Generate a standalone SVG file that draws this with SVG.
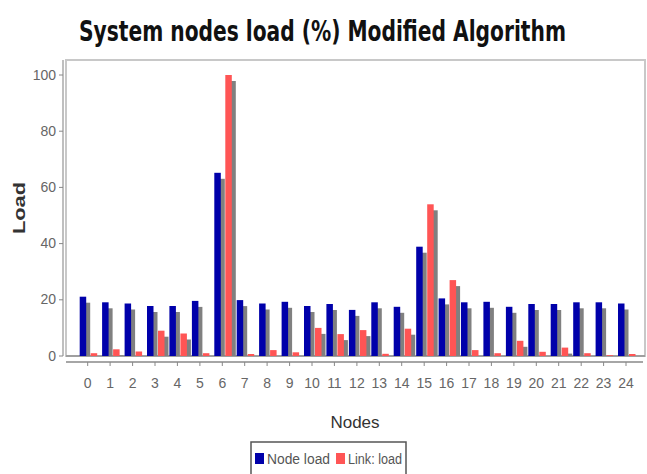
<svg xmlns="http://www.w3.org/2000/svg" width="647" height="474" viewBox="0 0 647 474">
<style>
.title{font-family:"DejaVu Sans Condensed","DejaVu Sans","Liberation Sans",sans-serif;font-weight:bold;font-size:21px;fill:#111}
.tick{font-family:"Liberation Sans","DejaVu Sans",sans-serif;font-size:14px;fill:#666}
.axl{font-family:"Liberation Sans","DejaVu Sans",sans-serif;font-size:17px;fill:#333}
.axlb{font-family:"Liberation Sans","DejaVu Sans",sans-serif;font-size:16px;font-weight:bold;fill:#333}
.leg{font-family:"Liberation Sans","DejaVu Sans",sans-serif;font-size:14px;fill:#555}
.node{fill:#0000aa}
.link{fill:#ff5555}
.sh{fill:#808080}
.tk{stroke:#888;stroke-width:1}
</style>
<rect width="647" height="474" fill="#fff"/>
<text class="title" transform="translate(79,41) scale(1,1.35)" x="0" y="0" textLength="487" lengthAdjust="spacingAndGlyphs">System nodes load (%) Modified Algorithm</text>
<g id="plot">
<rect x="66" y="60" width="579" height="296" fill="#fff" stroke="#c8c8c8" stroke-width="2"/>
<line x1="63" y1="60" x2="63" y2="356" stroke="#aaa" stroke-width="1.5"/>
<line x1="66" y1="362" x2="643" y2="362" stroke="#888" stroke-width="1.5"/>
<line x1="66" y1="356" x2="645" y2="356" stroke="#777" stroke-width="1"/>
</g>
<g id="y-axis">
<g class="tk">
<line x1="59" y1="75" x2="63" y2="75"/><line x1="59" y1="131.2" x2="63" y2="131.2"/><line x1="59" y1="187.4" x2="63" y2="187.4"/><line x1="59" y1="243.6" x2="63" y2="243.6"/><line x1="59" y1="299.8" x2="63" y2="299.8"/><line x1="59" y1="356" x2="63" y2="356"/>
</g>
<g class="tick" text-anchor="end">
<text x="56" y="80">100</text><text x="56" y="136">80</text><text x="56" y="192">60</text><text x="56" y="248">40</text><text x="56" y="304">20</text><text x="56" y="361">0</text>
</g>
<text class="axlb" transform="translate(25,208) rotate(-90)" text-anchor="middle" textLength="52" lengthAdjust="spacingAndGlyphs">Load</text>
</g>
<g id="x-axis">
<g class="tk">
<line x1="87.7" y1="362" x2="87.7" y2="366"/><line x1="110.1" y1="362" x2="110.1" y2="366"/><line x1="132.6" y1="362" x2="132.6" y2="366"/><line x1="155" y1="362" x2="155" y2="366"/><line x1="177.4" y1="362" x2="177.4" y2="366"/><line x1="199.9" y1="362" x2="199.9" y2="366"/><line x1="222.3" y1="362" x2="222.3" y2="366"/><line x1="244.7" y1="362" x2="244.7" y2="366"/><line x1="267.1" y1="362" x2="267.1" y2="366"/><line x1="289.6" y1="362" x2="289.6" y2="366"/><line x1="312" y1="362" x2="312" y2="366"/><line x1="334.4" y1="362" x2="334.4" y2="366"/><line x1="356.9" y1="362" x2="356.9" y2="366"/><line x1="379.3" y1="362" x2="379.3" y2="366"/><line x1="401.7" y1="362" x2="401.7" y2="366"/><line x1="424.2" y1="362" x2="424.2" y2="366"/><line x1="446.6" y1="362" x2="446.6" y2="366"/><line x1="469" y1="362" x2="469" y2="366"/><line x1="491.4" y1="362" x2="491.4" y2="366"/><line x1="513.9" y1="362" x2="513.9" y2="366"/><line x1="536.3" y1="362" x2="536.3" y2="366"/><line x1="558.7" y1="362" x2="558.7" y2="366"/><line x1="581.2" y1="362" x2="581.2" y2="366"/><line x1="603.6" y1="362" x2="603.6" y2="366"/><line x1="626" y1="362" x2="626" y2="366"/>
</g>
<g class="tick" text-anchor="middle">
<text x="87.7" y="388">0</text><text x="110.1" y="388">1</text><text x="132.6" y="388">2</text><text x="155" y="388">3</text><text x="177.4" y="388">4</text><text x="199.9" y="388">5</text><text x="222.3" y="388">6</text><text x="244.7" y="388">7</text><text x="267.1" y="388">8</text><text x="289.6" y="388">9</text><text x="312" y="388">10</text><text x="334.4" y="388">11</text><text x="356.9" y="388">12</text><text x="379.3" y="388">13</text><text x="401.7" y="388">14</text><text x="424.2" y="388">15</text><text x="446.6" y="388">16</text><text x="469" y="388">17</text><text x="491.4" y="388">18</text><text x="513.9" y="388">19</text><text x="536.3" y="388">20</text><text x="558.7" y="388">21</text><text x="581.2" y="388">22</text><text x="603.6" y="388">23</text><text x="626" y="388">24</text>
</g>
<text class="axl" x="355" y="428" text-anchor="middle">Nodes</text>
</g>
<g id="shadows">
<rect class="sh" x="83.7" y="302.7" width="6.5" height="53.3"/><rect class="sh" x="106.1" y="308.3" width="6.5" height="47.7"/><rect class="sh" x="128.6" y="309.5" width="6.5" height="46.5"/><rect class="sh" x="151" y="312" width="6.5" height="44"/><rect class="sh" x="173.4" y="312" width="6.5" height="44"/><rect class="sh" x="195.9" y="306.9" width="6.5" height="49.1"/><rect class="sh" x="218.3" y="178.8" width="6.5" height="177.2"/><rect class="sh" x="240.7" y="306.1" width="6.5" height="49.9"/><rect class="sh" x="263.1" y="309.5" width="6.5" height="46.5"/><rect class="sh" x="285.6" y="307.8" width="6.5" height="48.2"/><rect class="sh" x="308" y="312" width="6.5" height="44"/><rect class="sh" x="330.4" y="310" width="6.5" height="46"/><rect class="sh" x="352.9" y="315.9" width="6.5" height="40.1"/><rect class="sh" x="375.3" y="308.3" width="6.5" height="47.7"/><rect class="sh" x="397.7" y="312.8" width="6.5" height="43.2"/><rect class="sh" x="420.2" y="252.7" width="6.5" height="103.3"/><rect class="sh" x="442.6" y="304.4" width="6.5" height="51.6"/><rect class="sh" x="465" y="308.3" width="6.5" height="47.7"/><rect class="sh" x="487.4" y="307.8" width="6.5" height="48.2"/><rect class="sh" x="509.9" y="312.8" width="6.5" height="43.2"/><rect class="sh" x="532.3" y="310" width="6.5" height="46"/><rect class="sh" x="554.7" y="310" width="6.5" height="46"/><rect class="sh" x="577.2" y="308.3" width="6.5" height="47.7"/><rect class="sh" x="599.6" y="308.3" width="6.5" height="47.7"/><rect class="sh" x="622" y="309.5" width="6.5" height="46.5"/>
<rect class="sh" x="162" y="336.7" width="6.5" height="19.3"/><rect class="sh" x="184.4" y="339.5" width="6.5" height="16.5"/><rect class="sh" x="229.3" y="81" width="6.5" height="275"/><rect class="sh" x="319" y="333.9" width="6.5" height="22.1"/><rect class="sh" x="341.4" y="340.1" width="6.5" height="15.9"/><rect class="sh" x="363.9" y="336.1" width="6.5" height="19.9"/><rect class="sh" x="408.7" y="334.7" width="6.5" height="21.3"/><rect class="sh" x="431.2" y="210.3" width="6.5" height="145.7"/><rect class="sh" x="453.6" y="286.1" width="6.5" height="69.9"/><rect class="sh" x="520.9" y="346.8" width="6.5" height="9.2"/><rect class="sh" x="565.7" y="353.6" width="6.5" height="2.4"/><rect class="sh" x="117.1" y="355.3" width="6.5" height="0.7"/>
</g>
<g id="node-load">
<rect class="node" x="79.7" y="296.7" width="6.5" height="59.3"/><rect class="node" x="102.1" y="302.3" width="6.5" height="53.7"/><rect class="node" x="124.6" y="303.5" width="6.5" height="52.5"/><rect class="node" x="147" y="306" width="6.5" height="50"/><rect class="node" x="169.4" y="306" width="6.5" height="50"/><rect class="node" x="191.9" y="300.9" width="6.5" height="55.1"/><rect class="node" x="214.3" y="172.8" width="6.5" height="183.2"/><rect class="node" x="236.7" y="300.1" width="6.5" height="55.9"/><rect class="node" x="259.1" y="303.5" width="6.5" height="52.5"/><rect class="node" x="281.6" y="301.8" width="6.5" height="54.2"/><rect class="node" x="304" y="306" width="6.5" height="50"/><rect class="node" x="326.4" y="304" width="6.5" height="52"/><rect class="node" x="348.9" y="309.9" width="6.5" height="46.1"/><rect class="node" x="371.3" y="302.3" width="6.5" height="53.7"/><rect class="node" x="393.7" y="306.8" width="6.5" height="49.2"/><rect class="node" x="416.2" y="246.7" width="6.5" height="109.3"/><rect class="node" x="438.6" y="298.4" width="6.5" height="57.6"/><rect class="node" x="461" y="302.3" width="6.5" height="53.7"/><rect class="node" x="483.4" y="301.8" width="6.5" height="54.2"/><rect class="node" x="505.9" y="306.8" width="6.5" height="49.2"/><rect class="node" x="528.3" y="304" width="6.5" height="52"/><rect class="node" x="550.7" y="304" width="6.5" height="52"/><rect class="node" x="573.2" y="302.3" width="6.5" height="53.7"/><rect class="node" x="595.6" y="302.3" width="6.5" height="53.7"/><rect class="node" x="618" y="303.5" width="6.5" height="52.5"/>
</g>
<g id="link-load">
<rect class="link" x="90.7" y="353.2" width="6.5" height="2.8"/><rect class="link" x="113.1" y="349.3" width="6.5" height="6.7"/><rect class="link" x="135.6" y="351.5" width="6.5" height="4.5"/><rect class="link" x="158" y="330.7" width="6.5" height="25.3"/><rect class="link" x="180.4" y="333.5" width="6.5" height="22.5"/><rect class="link" x="202.9" y="353.2" width="6.5" height="2.8"/><rect class="link" x="225.3" y="75" width="6.5" height="281"/><rect class="link" x="247.7" y="354" width="6.5" height="2"/><rect class="link" x="270.1" y="350.1" width="6.5" height="5.9"/><rect class="link" x="292.6" y="352.3" width="6.5" height="3.7"/><rect class="link" x="315" y="327.9" width="6.5" height="28.1"/><rect class="link" x="337.4" y="334.1" width="6.5" height="21.9"/><rect class="link" x="359.9" y="330.1" width="6.5" height="25.9"/><rect class="link" x="382.3" y="353.8" width="6.5" height="2.2"/><rect class="link" x="404.7" y="328.7" width="6.5" height="27.3"/><rect class="link" x="427.2" y="204.3" width="6.5" height="151.7"/><rect class="link" x="449.6" y="280.1" width="6.5" height="75.9"/><rect class="link" x="472" y="350.1" width="6.5" height="5.9"/><rect class="link" x="494.4" y="353.2" width="6.5" height="2.8"/><rect class="link" x="516.9" y="340.8" width="6.5" height="15.2"/><rect class="link" x="539.3" y="351.8" width="6.5" height="4.2"/><rect class="link" x="561.7" y="347.6" width="6.5" height="8.4"/><rect class="link" x="584.2" y="353.2" width="6.5" height="2.8"/><rect class="link" x="606.6" y="355.2" width="6.5" height="0.8"/><rect class="link" x="629" y="354" width="6.5" height="2"/>
</g>
<g id="legend">
<rect x="251" y="442" width="155" height="40" fill="#fff" stroke="#555" stroke-width="1.5"/>
<rect class="node" x="255" y="453" width="9" height="11"/>
<text class="leg" x="267" y="464" textLength="63" lengthAdjust="spacingAndGlyphs">Node load</text>
<rect class="link" x="336" y="453" width="9" height="11"/>
<text class="leg" x="348" y="464" textLength="54" lengthAdjust="spacingAndGlyphs">Link: load</text>
</g>
</svg>
